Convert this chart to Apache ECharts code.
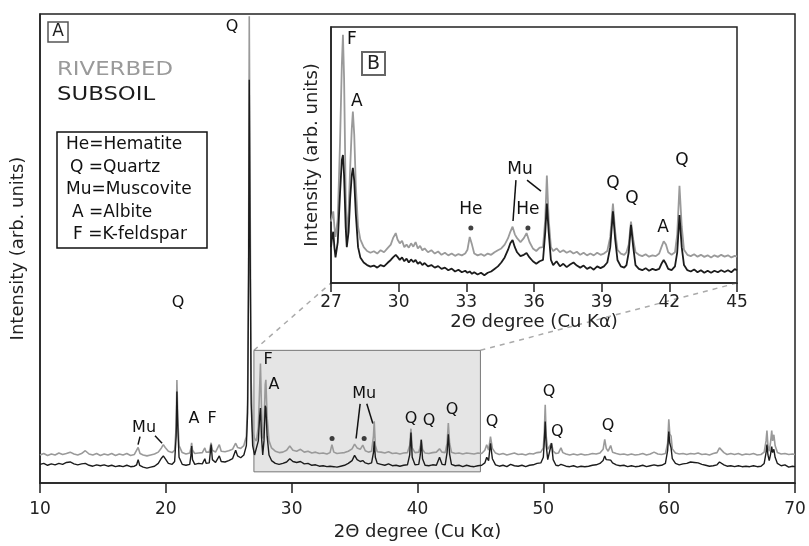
<!DOCTYPE html>
<html>
<head>
<meta charset="utf-8">
<script src="https://cdn.jsdelivr.net/npm/echarts/dist/echarts.min.js"></script>
<style>
  html, body { margin: 0; padding: 0; background: #fff; }
  #xrd { width: 809px; height: 546px; }
</style>
</head>
<body>
<div id="xrd"></div>
<script>
// XRD patterns, [2theta, intensity] in arbitrary units (main panel 0-100)
var riverbedMain = [
  [10,6.0],[10.3,6.3],[10.6,5.9],[10.9,6.2],[11.2,6.0],[11.5,6.4],[11.8,6.1],[12.1,6.3],[12.4,6.6],[12.7,6.2],
  [13.0,6.0],[13.3,6.3],[13.6,6.9],[13.9,6.2],[14.2,6.0],[14.5,6.3],[14.8,5.9],[15.1,6.2],[15.4,6.0],[15.7,6.3],
  [16.0,5.9],[16.3,6.2],[16.6,6.0],[16.9,6.3],[17.2,5.9],[17.5,6.1],[17.65,6.4],[17.8,7.6],[17.95,6.3],[18.2,6.0],
  [18.5,5.8],[18.8,6.0],[19.1,6.2],[19.4,6.6],[19.65,7.5],[19.8,8.2],[19.95,7.6],[20.2,6.8],[20.5,6.5],[20.7,7.0],
  [20.82,12],[20.88,22],[20.95,14],[21.05,8.0],[21.3,6.5],[21.6,6.2],[21.9,6.4],[22.0,7.5],[22.05,8.6],[22.12,7.0],
  [22.3,6.3],[22.6,6.4],[22.9,6.5],[23.1,7.5],[23.2,6.6],[23.45,6.6],[23.6,8.6],[23.7,7.0],[23.95,6.6],[24.25,8.2],
  [24.4,6.8],[24.7,6.7],[25.0,6.9],[25.3,7.2],[25.55,8.5],[25.7,7.6],[25.95,7.4],[26.2,8.0],[26.4,10],[26.5,18],
  [26.58,50],[26.63,99.5],[26.7,60],[26.78,22],[26.9,11],[27.05,9.5],[27.2,9.0],[27.35,12],[27.45,20],[27.52,25.5],
  [27.6,16],[27.7,9.5],[27.8,12],[27.9,21],[27.95,22],[28.05,14],[28.2,9],[28.4,7.5],[28.7,6.8],[29.0,6.5],
  [29.3,6.6],[29.6,7.0],[29.85,7.9],[30.1,7.0],[30.4,6.8],[30.7,7.2],[31.0,6.6],[31.3,6.8],[31.6,6.4],[31.9,6.6],
  [32.2,6.3],[32.5,6.4],[32.8,6.2],[33.05,6.5],[33.2,8.2],[33.35,6.6],[33.6,6.3],[33.9,6.4],[34.2,6.5],[34.5,6.8],
  [34.8,7.3],[35.0,8.3],[35.2,7.5],[35.45,7.2],[35.65,8.1],[35.85,6.9],[36.1,6.6],[36.35,6.8],[36.5,10],[36.56,13.2],
  [36.65,8],[36.8,6.7],[37.1,6.6],[37.4,6.4],[37.7,6.7],[38.0,6.3],[38.3,6.4],[38.6,6.2],[38.9,6.4],[39.2,6.5],
  [39.38,8],[39.48,11.6],[39.58,7.5],[39.8,6.5],[40.1,6.6],[40.22,7.8],[40.3,9.4],[40.4,7.2],[40.6,6.4],[40.9,6.3],
  [41.2,6.5],[41.5,6.6],[41.75,7.3],[41.95,6.6],[42.2,6.5],[42.35,8.5],[42.45,12.8],[42.55,8.5],[42.7,6.6],[43.0,6.3],
  [43.3,6.4],[43.6,6.2],[43.9,6.4],[44.2,6.3],[44.5,6.2],[44.8,6.4],[45.1,6.3],[45.35,7.0],[45.5,8.2],[45.65,7.0],
  [45.8,9.9],[45.95,7.4],[46.2,6.4],[46.5,6.1],[46.8,6.3],[47.1,6.0],[47.4,6.2],[47.7,6.4],[48.0,6.1],[48.3,6.2],
  [48.6,6.0],[48.9,6.3],[49.2,6.2],[49.5,6.5],[49.8,6.6],[50.0,7.5],[50.08,11],[50.15,16.7],[50.23,10],[50.35,7.2],
  [50.5,7.0],[50.65,8.5],[50.78,6.8],[51.0,6.3],[51.2,6.4],[51.4,7.5],[51.55,6.5],[51.8,6.2],[52.1,6.0],[52.4,6.2],
  [52.7,6.0],[53.0,6.2],[53.3,6.0],[53.6,6.1],[53.9,6.3],[54.2,6.2],[54.5,6.4],[54.75,7.2],[54.88,9.3],[55.0,7.4],
  [55.15,6.8],[55.35,8.0],[55.5,6.6],[55.8,6.3],[56.1,6.1],[56.4,6.2],[56.7,6.0],[57.0,6.2],[57.3,6.0],[57.6,6.1],
  [57.9,6.3],[58.2,6.0],[58.5,6.2],[58.8,6.6],[59.1,6.2],[59.4,6.1],[59.7,6.3],[59.88,8.5],[59.97,13.6],[60.05,10.5],
  [60.15,10],[60.25,7.3],[60.5,6.4],[60.8,6.2],[61.1,6.3],[61.4,6.1],[61.7,6.3],[62.0,6.2],[62.3,6.4],[62.6,6.1],
  [62.9,6.2],[63.2,6.0],[63.5,6.3],[63.8,6.5],[64.0,7.5],[64.15,7.4],[64.35,6.5],[64.6,6.1],[64.9,6.3],[65.2,6.1],
  [65.5,6.3],[65.8,6.0],[66.1,6.2],[66.4,6.1],[66.7,6.3],[67.0,6.0],[67.3,6.1],[67.55,6.6],[67.7,9],[67.77,11.2],
  [67.85,8],[67.95,6.8],[68.05,8.5],[68.15,11.2],[68.22,9],[68.32,10.3],[68.42,8],[68.6,6.5],[68.9,6.2],[69.2,6.3],
  [69.5,6.1],[69.8,6.2],[70,6.1]
];
var subsoilMain = [
  [10,4.0],[10.3,4.2],[10.6,3.8],[10.9,4.1],[11.2,3.9],[11.5,4.2],[11.8,4.0],[12.1,4.4],[12.4,4.5],[12.7,4.1],
  [13.0,3.9],[13.3,4.1],[13.6,4.2],[13.9,3.8],[14.2,3.6],[14.5,3.9],[14.8,3.7],[15.1,3.9],[15.4,3.6],[15.7,3.8],
  [16.0,3.5],[16.3,3.7],[16.6,3.5],[16.9,3.8],[17.2,3.5],[17.5,3.6],[17.68,3.9],[17.8,5.0],[17.92,3.8],[18.2,3.4],
  [18.5,3.2],[18.8,3.4],[19.1,3.6],[19.4,4.2],[19.65,5.3],[19.8,5.8],[19.95,5.2],[20.2,4.2],[20.5,4.0],[20.7,4.6],
  [20.82,10],[20.88,19.5],[20.95,12],[21.05,5.5],[21.3,4.0],[21.6,3.8],[21.9,4.0],[22.0,6.0],[22.05,7.9],[22.12,5.0],
  [22.3,4.0],[22.6,4.2],[22.9,4.1],[23.1,5.2],[23.2,4.2],[23.45,4.3],[23.6,8.2],[23.7,5.0],[23.95,4.4],[24.25,5.8],
  [24.4,4.6],[24.7,4.5],[25.0,4.8],[25.3,5.2],[25.55,7.0],[25.7,5.8],[25.95,5.4],[26.2,6.0],[26.4,8],[26.5,15],
  [26.58,45],[26.63,86],[26.7,50],[26.78,17],[26.9,8],[27.05,6],[27.2,5.8],[27.35,9],[27.45,14],[27.52,16],
  [27.6,10],[27.7,6],[27.8,9],[27.9,16.5],[27.95,16],[28.05,10],[28.2,6],[28.4,4.8],[28.7,4.2],[29.0,4.0],
  [29.3,4.2],[29.6,4.5],[29.85,5.2],[30.1,4.6],[30.4,4.4],[30.7,4.6],[31.0,4.1],[31.3,4.2],[31.6,3.8],[31.9,3.9],
  [32.2,3.6],[32.5,3.7],[32.8,3.5],[33.05,3.6],[33.2,3.7],[33.35,3.5],[33.6,3.4],[33.9,3.6],[34.2,3.8],[34.5,4.2],
  [34.8,4.8],[35.0,5.9],[35.2,5.0],[35.45,4.6],[35.65,4.8],[35.85,4.3],[36.1,4.1],[36.35,4.3],[36.5,6.5],[36.56,8.9],
  [36.65,5.5],[36.8,4.2],[37.1,4.0],[37.4,3.8],[37.7,4.1],[38.0,3.7],[38.3,3.8],[38.6,3.6],[38.9,3.8],[39.2,3.9],
  [39.38,6],[39.48,10.8],[39.58,5.5],[39.8,3.9],[40.1,4.0],[40.22,6],[40.3,9.2],[40.4,5.2],[40.6,3.8],[40.9,3.7],
  [41.2,3.9],[41.5,3.8],[41.75,5.5],[41.95,4.0],[42.2,3.9],[42.35,6.5],[42.45,10.4],[42.55,6.2],[42.7,4.0],[43.0,3.7],
  [43.3,3.8],[43.6,3.5],[43.9,3.8],[44.2,3.6],[44.5,3.5],[44.8,3.7],[45.1,3.8],[45.35,4.3],[45.5,5.5],[45.65,4.8],
  [45.8,8.5],[45.95,5.2],[46.2,3.9],[46.5,3.6],[46.8,3.8],[47.1,3.5],[47.4,4.0],[47.7,3.7],[48.0,3.6],[48.3,3.8],
  [48.6,3.5],[48.9,3.8],[49.2,3.9],[49.5,4.2],[49.8,4.3],[50.0,5.5],[50.08,9],[50.15,13.1],[50.23,8],[50.35,5],
  [50.5,5.2],[50.65,8.5],[50.78,5],[51.0,3.8],[51.2,3.7],[51.4,4.0],[51.55,3.7],[51.8,3.6],[52.1,3.5],[52.4,3.7],
  [52.7,3.4],[53.0,3.6],[53.3,3.5],[53.6,3.6],[53.9,3.8],[54.2,3.9],[54.5,4.2],[54.75,4.8],[54.88,5.8],[55.0,5.0],
  [55.15,4.6],[55.35,4.9],[55.5,4.3],[55.8,3.9],[56.1,3.7],[56.4,3.8],[56.7,3.5],[57.0,3.7],[57.3,3.5],[57.6,3.6],
  [57.9,3.8],[58.2,3.5],[58.5,3.7],[58.8,3.9],[59.1,3.7],[59.4,3.8],[59.7,4.2],[59.88,7],[59.97,11],[60.05,8.5],
  [60.15,7.5],[60.25,5.2],[60.5,4.2],[60.8,3.9],[61.1,4.1],[61.4,4.2],[61.7,4.5],[62.0,4.4],[62.3,4.3],[62.6,4.0],
  [62.9,3.8],[63.2,3.6],[63.5,3.7],[63.8,3.9],[64.0,4.5],[64.15,4.4],[64.35,3.9],[64.6,3.6],[64.9,3.7],[65.2,3.5],
  [65.5,3.7],[65.8,3.5],[66.1,3.6],[66.4,3.5],[66.7,3.7],[67.0,3.5],[67.3,3.6],[67.55,4.2],[67.7,6.5],[67.77,8.2],
  [67.85,6],[67.95,4.8],[68.05,6],[68.15,7.8],[68.22,6.5],[68.32,7.2],[68.42,5.5],[68.6,4.2],[68.9,3.7],[69.2,3.9],
  [69.5,3.4],[69.8,3.6],[70,3.5]
];

// inset B (27-45 deg), its own intensity scale 0-100
var riverbedInset = [
  [27.0,24],[27.05,26],[27.1,28],[27.15,22],[27.2,18],[27.3,25],[27.4,55],[27.48,85],[27.53,97],[27.58,80],
  [27.65,35],[27.7,18],[27.78,28],[27.85,45],[27.92,60],[27.97,67],[28.03,58],[28.1,38],[28.2,22],[28.3,17],
  [28.45,14],[28.6,12.5],[28.75,11.8],[28.9,12.4],[29.05,11.5],[29.2,12.8],[29.35,12],[29.5,13.5],[29.65,15],[29.75,17.5],
  [29.87,19.5],[29.95,17],[30.05,15.5],[30.15,16.5],[30.25,14],[30.35,15],[30.45,13.8],[30.55,15.5],[30.65,14.2],[30.75,16],
  [30.85,13.5],[30.95,14.5],[31.05,12.8],[31.15,13.5],[31.3,12],[31.45,12.8],[31.6,11.5],[31.75,12.3],[31.9,11],[32.05,11.8],
  [32.2,10.8],[32.35,11.5],[32.5,10.6],[32.65,11.3],[32.8,10.8],[32.95,11.5],[33.05,13],[33.15,18],[33.25,15],[33.35,11.5],
  [33.5,10.8],[33.65,11.3],[33.8,10.6],[33.95,11.5],[34.1,11],[34.25,12],[34.4,12.8],[34.55,13.5],[34.7,15],[34.85,17.5],
  [34.95,20],[35.05,22],[35.15,19],[35.25,17.5],[35.4,16],[35.55,17.5],[35.67,19.5],[35.8,16],[35.95,13.5],[36.1,12.5],
  [36.25,13.8],[36.4,14],[36.5,25],[36.57,42],[36.65,25],[36.75,14],[36.85,12.5],[37.0,13.5],[37.15,12],[37.3,12.8],
  [37.45,11.8],[37.6,12.5],[37.75,11.5],[37.9,12.2],[38.05,11],[38.2,11.8],[38.35,10.8],[38.5,11.5],[38.65,10.8],[38.8,11.8],
  [38.95,11],[39.1,11.5],[39.25,12.5],[39.38,18],[39.5,31],[39.6,20],[39.7,13],[39.85,11.5],[40.0,11],[40.1,12],
  [40.2,15],[40.3,24],[40.4,17],[40.5,12],[40.65,11],[40.8,10.5],[40.95,11.2],[41.1,10.3],[41.25,10.8],[41.4,10.5],
  [41.55,11.5],[41.65,14],[41.75,16.3],[41.85,15],[41.95,12],[42.1,11],[42.25,12],[42.35,19],[42.45,38],[42.55,22],
  [42.65,13],[42.8,11],[42.95,10.5],[43.1,11.2],[43.25,10.3],[43.4,11],[43.55,10.2],[43.7,10.8],[43.85,10],[44.0,10.8],
  [44.15,10.2],[44.3,11],[44.45,10.3],[44.6,10.8],[44.75,10],[44.9,10.6],[45.0,10.3]
];
var subsoilInset = [
  [27.0,14],[27.05,18],[27.1,20],[27.15,14],[27.2,10],[27.3,16],[27.4,35],[27.48,48],[27.53,50],[27.58,42],
  [27.65,22],[27.7,14],[27.78,20],[27.85,33],[27.92,42],[27.97,45],[28.03,40],[28.1,27],[28.2,14],[28.3,10],
  [28.45,8],[28.6,7],[28.75,6.4],[28.9,6.8],[29.05,6.0],[29.2,7.0],[29.35,6.5],[29.5,7.8],[29.65,9],[29.75,10],
  [29.87,11],[29.95,10.2],[30.05,9],[30.15,10],[30.25,8.5],[30.35,9.5],[30.45,8],[30.55,9.2],[30.65,8.2],[30.75,9],
  [30.85,7.5],[30.95,8.2],[31.05,7],[31.15,7.8],[31.3,6.5],[31.45,7],[31.6,6],[31.75,6.6],[31.9,5.5],[32.05,6],
  [32.2,5],[32.35,5.6],[32.5,4.5],[32.65,5.2],[32.8,4.2],[32.95,4.8],[33.05,4],[33.15,4.5],[33.25,3.6],[33.35,4.2],
  [33.5,3.3],[33.65,4],[33.8,3],[33.95,4],[34.1,4.5],[34.25,5.5],[34.4,6.5],[34.55,8],[34.7,10],[34.85,13],
  [34.95,15.5],[35.05,16.8],[35.15,14],[35.25,12],[35.4,10.5],[35.55,11],[35.67,11.7],[35.8,10],[35.95,8.5],[36.1,7.5],
  [36.25,8.5],[36.4,9],[36.5,20],[36.57,31],[36.65,20],[36.75,9],[36.85,7],[37.0,8.5],[37.15,6.5],[37.3,7.5],
  [37.45,6.2],[37.6,7.2],[37.75,8],[37.9,6.8],[38.05,6],[38.2,6.8],[38.35,5.5],[38.5,6.2],[38.65,5.2],[38.8,6.5],
  [38.95,5.8],[39.1,6.5],[39.25,8],[39.38,14],[39.5,28],[39.6,17],[39.7,9],[39.85,6.5],[40.0,6],[40.1,7],
  [40.2,12],[40.3,22.7],[40.4,14],[40.5,7],[40.65,5.5],[40.8,5],[40.95,5.8],[41.1,4.8],[41.25,5.5],[41.4,5],
  [41.55,5.5],[41.65,7.5],[41.75,9],[41.85,7.5],[41.95,5.5],[42.1,5],[42.25,6.5],[42.35,12],[42.45,26.5],[42.55,14],
  [42.65,7],[42.8,5],[42.95,4.5],[43.1,5.3],[43.25,4.2],[43.4,5],[43.55,4],[43.7,4.8],[43.85,4],[44.0,4.8],
  [44.15,4.2],[44.3,5],[44.45,4.3],[44.6,5],[44.75,4.2],[44.9,5.4],[45.0,5]
];

// phase labels [2theta, intensity, text]
var mainTags = [
  [25.26,97.3,'Q'],[20.97,38.5,'Q'],[18.27,11.8,'Mu'],[22.24,13.7,'A'],[23.67,13.7,'F'],
  [28.12,26.2,'F'],[28.6,20.9,'A'],[35.76,19.0,'Mu'],[39.49,13.7,'Q'],[40.92,13.3,'Q'],
  [42.75,15.6,'Q'],[45.93,13.1,'Q'],[50.46,19.5,'Q'],[51.1,11.0,'Q'],[55.15,12.1,'Q']
];
var mainDots = [[33.21,9.5],[35.76,9.5]];
var mainLeaders = [
  [[17.95,9.9],[17.79,8.2]], [[19.14,10.1],[19.7,8.5]],
  [[35.44,16.9],[35.12,9.5]], [[35.97,16.9],[36.45,12.7]]
];
var insetTags = [
  [27.93,94.9,'F'],[28.15,70.7,'A'],[33.2,28.5,'He'],[35.38,44.5,'Mu'],[35.73,28.5,'He'],
  [39.5,38.7,'Q'],[40.34,32.8,'Q'],[41.72,21.5,'A'],[42.56,48.0,'Q']
];
var insetDots = [[33.2,21.5],[35.73,21.5]];
var insetLeaders = [
  [[35.2,40.2],[35.07,24.2]], [[35.69,40.2],[36.31,35.9]]
];
var phaseKey = ['He=Hematite', 'Q =Quartz', 'Mu=Muscovite', 'A =Albite', 'F =K-feldspar'];

var GRAY = '#9a9a9a', DARK = '#1c1c1c', FONT = 'DejaVu Sans';

var chart = echarts.init(document.getElementById('xrd'));

function traceSeries(data, color, width, gi) {
  return {
    type: 'line', data: data, xAxisIndex: gi, yAxisIndex: gi,
    showSymbol: false, symbol: 'none', z: 3,
    lineStyle: { color: color, width: width }
  };
}
function tagSeries(data, gi, size) {
  return {
    type: 'scatter', data: data, xAxisIndex: gi, yAxisIndex: gi,
    symbolSize: 1, itemStyle: { color: 'rgba(0,0,0,0)' }, z: 5,
    label: {
      show: true, position: 'inside', color: '#111', fontFamily: FONT, fontSize: size,
      textBorderWidth: 0, textBorderColor: 'transparent', opacity: 1,
      formatter: function (p) { return p.data[2]; }
    }
  };
}
function dotSeries(data, gi) {
  return {
    type: 'scatter', data: data, xAxisIndex: gi, yAxisIndex: gi,
    symbolSize: 5, itemStyle: { color: '#111' }, z: 5
  };
}
function leaderSeries(data, gi) {
  return {
    type: 'lines', coordinateSystem: 'cartesian2d', xAxisIndex: gi, yAxisIndex: gi,
    data: data.map(function (c) { return { coords: c }; }),
    lineStyle: { color: '#111', width: 1.5, opacity: 1 }, z: 5
  };
}

var option = {
  animation: false,
  textStyle: { fontFamily: FONT },
  grid: [
    { left: 40, top: 14, right: 14, bottom: 59, show: true, borderColor: '#222', borderWidth: 1.5 },
    { left: 331, top: 27, width: 406, height: 256, show: true, backgroundColor: '#fff',
      borderColor: '#222', borderWidth: 1.5 }
  ],
  xAxis: [
    { gridIndex: 0, type: 'value', min: 10, max: 70, interval: 10,
      name: '2Θ degree (Cu Kα)', nameLocation: 'middle', nameGap: 32,
      nameTextStyle: { fontSize: 18, color: '#222', fontFamily: FONT },
      axisLine: { lineStyle: { color: '#222', width: 1.5 } },
      axisTick: { inside: false, length: 10, lineStyle: { color: '#222', width: 1.5 } },
      axisLabel: { fontSize: 17, color: '#222', margin: 18 },
      splitLine: { show: false } },
    { gridIndex: 1, type: 'value', min: 27, max: 45, interval: 3,
      name: '2Θ degree (Cu Kα)', nameLocation: 'middle', nameGap: 30,
      nameTextStyle: { fontSize: 18, color: '#222', fontFamily: FONT },
      axisLine: { lineStyle: { color: '#222', width: 1.5 } },
      axisTick: { inside: false, length: 9, lineStyle: { color: '#222', width: 1.5 } },
      axisLabel: { fontSize: 17, color: '#222', margin: 11 },
      splitLine: { show: false } }
  ],
  yAxis: [
    { gridIndex: 0, type: 'value', min: 0, max: 100,
      name: 'Intensity (arb. units)', nameLocation: 'middle', nameGap: 13,
      nameTextStyle: { fontSize: 18, color: '#222', fontFamily: FONT },
      axisLine: { show: true, lineStyle: { color: '#222', width: 1.5 } },
      axisTick: { show: false }, axisLabel: { show: false }, splitLine: { show: false } },
    { gridIndex: 1, type: 'value', min: 0, max: 100,
      name: 'Intensity (arb. units)', nameLocation: 'middle', nameGap: 10,
      nameTextStyle: { fontSize: 18, color: '#222', fontFamily: FONT },
      axisLine: { show: true, lineStyle: { color: '#222', width: 1.5 } },
      axisTick: { show: false }, axisLabel: { show: false }, splitLine: { show: false } }
  ],
  series: [
    { type: 'line', data: [], xAxisIndex: 0, yAxisIndex: 0, z: 1, silent: true,
      markArea: { silent: true,
        itemStyle: { color: '#e5e5e5', borderColor: '#777', borderWidth: 1 },
        data: [[{ xAxis: 27, yAxis: 2.4 }, { xAxis: 45, yAxis: 28.3 }]] } },
    traceSeries(riverbedMain, GRAY, 1.6, 0),
    traceSeries(subsoilMain, DARK, 1.4, 0),
    traceSeries(riverbedInset, GRAY, 1.8, 1),
    traceSeries(subsoilInset, DARK, 1.8, 1),
    tagSeries(mainTags, 0, 16),
    tagSeries(insetTags, 1, 17),
    dotSeries(mainDots, 0),
    dotSeries(insetDots, 1),
    leaderSeries(mainLeaders, 0),
    leaderSeries(insetLeaders, 1)
  ]
};
chart.setOption(option);

// decorations: legend texts, panel letters, zoom connectors
var gfx = [
  { type: 'text', x: 57, y: 70, scaleX: 1.2,
    style: { text: 'RIVERBED', fill: GRAY, font: '19px "DejaVu Sans"', verticalAlign: 'middle' } },
  { type: 'text', x: 57, y: 95, scaleX: 1.2,
    style: { text: 'SUBSOIL', fill: DARK, font: '19px "DejaVu Sans"', verticalAlign: 'middle' } },
  { type: 'rect', shape: { x: 48, y: 22, width: 20, height: 20 },
    style: { fill: '#fff', stroke: '#555', lineWidth: 1.5 } },
  { type: 'text', x: 58, y: 32,
    style: { text: 'A', fill: '#222', font: '17px "DejaVu Sans"', align: 'center', verticalAlign: 'middle' } },
  { type: 'rect', shape: { x: 362, y: 52, width: 23, height: 23 },
    style: { fill: '#fff', stroke: '#666', lineWidth: 2 } },
  { type: 'text', x: 373.5, y: 64,
    style: { text: 'B', fill: '#222', font: '19px "DejaVu Sans"', align: 'center', verticalAlign: 'middle' } },
  { type: 'rect', shape: { x: 57, y: 132, width: 150, height: 116 },
    style: { fill: '#fff', stroke: '#111', lineWidth: 1.5 } }
];
var keyX = [66, 70, 66, 72, 73];
phaseKey.forEach(function (t, i) {
  gfx.push({ type: 'text', x: keyX[i], y: 145 + i * 22.5,
    style: { text: t, fill: '#111', font: '17px "DejaVu Sans"', verticalAlign: 'middle' } });
});

var a0 = chart.convertToPixel({ gridIndex: 0 }, [27, 28.3]);
var a1 = chart.convertToPixel({ gridIndex: 0 }, [45, 28.3]);
var b0 = chart.convertToPixel({ gridIndex: 1 }, [27, 0]);
var b1 = chart.convertToPixel({ gridIndex: 1 }, [45, 0]);
[[a0, b0], [a1, b1]].forEach(function (s) {
  gfx.push({ type: 'line', shape: { x1: s[0][0], y1: s[0][1], x2: s[1][0], y2: s[1][1] },
    style: { stroke: '#aaa', lineWidth: 1.5, lineDash: [5, 5] } });
});

chart.setOption({ graphic: gfx });
window.addEventListener('resize', function () { chart.resize(); });
</script>
</body>
</html>
